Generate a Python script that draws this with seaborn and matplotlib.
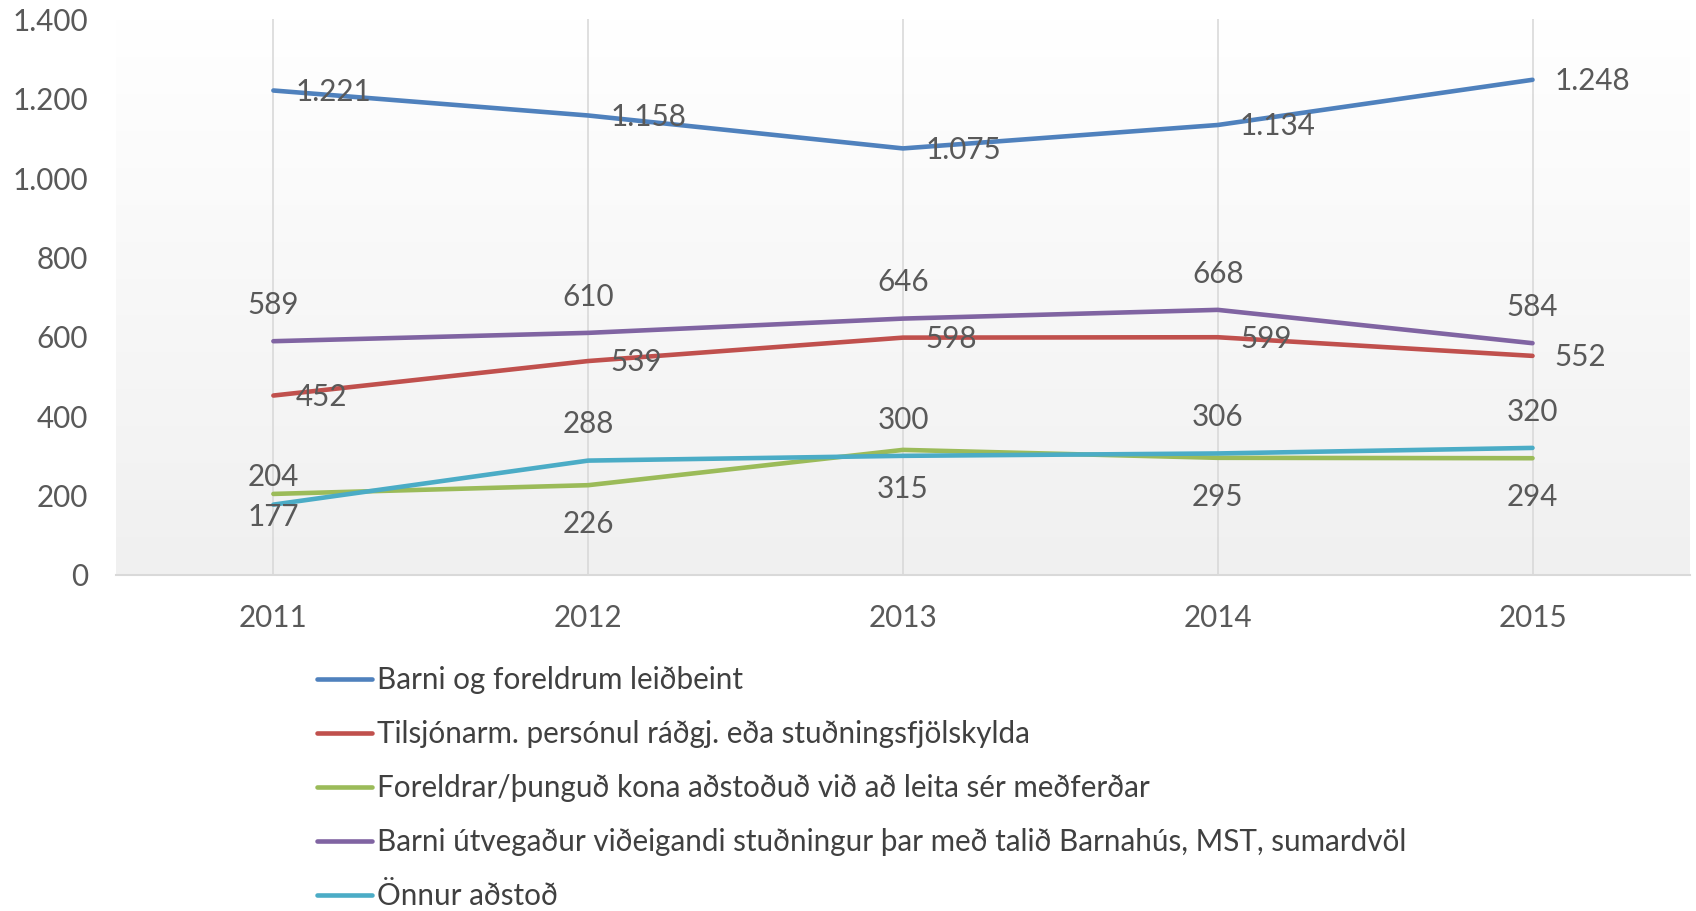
import numpy as np
import pandas as pd
import seaborn as sns
import matplotlib.pyplot as plt
from matplotlib.colors import LinearSegmentedColormap
from matplotlib.ticker import FuncFormatter

# Data
years = [2011, 2012, 2013, 2014, 2015]
series_names = [
    'Barni og foreldrum leiðbeint',
    'Tilsjónarm. persónul ráðgj. eða stuðningsfjölskylda',
    'Foreldrar/þunguð kona aðstoðuð við að leita sér meðferðar',
    'Barni útvegaður viðeigandi stuðningur þar með talið Barnahús, MST, sumardvöl',
    'Önnur aðstoð',
]
leidbeint = [1221, 1158, 1075, 1134, 1248]
tilsjon = [452, 539, 598, 599, 552]
foreldrar = [204, 226, 315, 295, 294]
studningur = [589, 610, 646, 668, 584]
onnur = [177, 288, 300, 306, 320]
values = [leidbeint, tilsjon, foreldrar, studningur, onnur]

colors = ['#4F81BD', '#C0504D', '#9BBB59', '#8064A2', '#4BACC6']

# data label offsets (points) as Excel placed them
R, A, B = (16, -1), (0, 26), (0, -28)
label_off = [
    [R] * 5,
    [R] * 5,
    [(0, 12), B, B, B, B],
    [A] * 5,
    [(0, -9), A, A, A, A],
]

df = pd.DataFrame({
    'year': years * len(series_names),
    'value': sum(values, []),
    'series': [s for s in series_names for _ in years],
})

sns.set_style('white')
plt.rcParams['font.family'] = ['Lato', 'DejaVu Sans']
text_color = '#595959'
fs = 21.3

fig = plt.figure(figsize=(16.96, 9.11), dpi=100)
ax = fig.add_axes([0.0684, 0.369, 0.928, 0.6096])

# soft gradient background
grad = np.linspace(1, 0, 256).reshape(-1, 1)
ax.imshow(grad, extent=[0, 1, 0, 1], transform=ax.transAxes, aspect='auto',
          cmap=LinearSegmentedColormap.from_list('bg', ['#f0f0f0', '#ffffff']),
          zorder=0)

for y in years:
    ax.axvline(y, color='#d9d9d9', lw=1.2, zorder=1)

sns.lineplot(data=df, x='year', y='value', hue='series', palette=colors,
             hue_order=series_names, linewidth=3.3, ax=ax, zorder=3)

fmt = lambda v: f'{v:,.0f}'.replace(',', '.')
for vals, offs in zip(values, label_off):
    for x, v, (dx, dy) in zip(years, vals, offs):
        ax.annotate(fmt(v), (x, v), xytext=(dx, dy), textcoords='offset points',
                    ha='left' if dx else 'center', va='center', fontsize=fs,
                    color=text_color, zorder=4)

ax.set_xlim(2010.5, 2015.5)
ax.set_ylim(0, 1400)
ax.set_xticks(years)
ax.set_yticks(range(0, 1401, 200))
ax.yaxis.set_major_formatter(FuncFormatter(lambda v, _: fmt(v)))
ax.tick_params(axis='both', length=0, labelsize=fs, labelcolor=text_color)
ax.tick_params(axis='x', pad=21)
ax.tick_params(axis='y', pad=20)
ax.set_xlabel('')
ax.set_ylabel('')
for side in ['top', 'right', 'left']:
    ax.spines[side].set_visible(False)
ax.spines['bottom'].set_color('#d9d9d9')
ax.spines['bottom'].set_linewidth(1.5)

handles, labels = ax.get_legend_handles_labels()
ax.legend(handles, labels, loc='upper left', bbox_to_anchor=(0.187, 0.269),
          bbox_transform=fig.transFigure, frameon=False, fontsize=fs,
          labelcolor='#404040', handlelength=1.87, handletextpad=0.15,
          labelspacing=0.88, borderpad=0, borderaxespad=0)

fig.savefig('out.png', dpi=100)
